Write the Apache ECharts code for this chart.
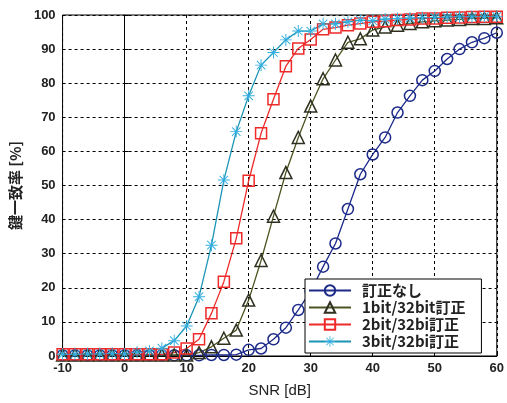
<!DOCTYPE html>
<html><head><meta charset="utf-8">
<script src="https://cdn.jsdelivr.net/npm/echarts@6/dist/echarts.min.js"></script>
<style>html,body{margin:0;padding:0;background:#fff}#c{width:507px;height:403px}</style>
</head><body><div id="c"></div>
<script>
const snr = [-10,-8,-6,-4,-2,0,2,4,6,8,10,12,14,16,18,20,22,24,26,28,30,32,34,36,38,40,42,44,46,48,50,52,54,56,58,60];
const noCorr = [0.2,0.2,0.2,0.2,0.2,0.2,0.2,0.2,0.2,0.2,0.2,0.2,0.3,0.3,0.4,1.8,2.2,4.9,8.3,13.5,19,26.2,33,43.1,53.3,59.1,64.1,71.4,76.3,80.9,83.6,87.1,90,92,93.2,94.8];
const corr1 = [0.3,0.3,0.3,0.3,0.3,0.3,0.3,0.3,0.3,0.3,0.3,1,2.7,5.2,7.6,16.4,28,41,53.8,64.1,73.3,81.3,86.8,92,93,95.6,96.5,97,97.5,98,98.3,98.5,98.7,99,99,99.2];
const corr2 = [0.5,0.5,0.5,0.5,0.5,0.5,0.5,0.5,0.5,1,2.2,4.9,12.5,21.8,34.5,51.4,65.3,75.3,85,90.2,92.8,95.8,96.3,97,97.5,98,98.2,98.5,98.7,99,99,99.2,99.3,99.4,99.5,99.5];
const corr3 = [0.5,0.5,0.6,0.6,0.7,0.6,1.1,1.5,2.3,4.5,8.8,17.4,32.5,51.6,65.8,76.3,85.3,89,92.7,95.3,95.3,97.4,97.4,98,98.5,98.3,98.8,99,99.1,99.2,99.3,99.4,99.5,99.5,99.6,99.6];
const names = ['訂正なし','1bit/32bit訂正','2bit/32bi訂正','3bit/32bi訂正'];

const star = 'path://M-0.8,-10L0.8,-10L0.8,10L-0.8,10Z M-10,-0.8L10,-0.8L10,0.8L-10,0.8Z M-7.6,-6.5L-6.5,-7.6L7.6,6.5L6.5,7.6Z M6.5,-7.6L7.6,-6.5L-6.5,7.6L-7.6,6.5Z';
function pairs(v){return snr.map((x,i)=>[x,v[i]]);}
function mk(name,data,col,sym,size,mcol,fill){
  return {name:name,type:'line',data:pairs(data),symbol:sym,symbolSize:size,showSymbol:true,
    lineStyle:{color:col,width:1.3},
    itemStyle:{color:fill?mcol:'rgba(255,255,255,0)',borderColor:mcol,borderWidth:fill?0:1.5},
    emphasis:{disabled:true},animation:false};
}
const chart = echarts.init(document.getElementById('c'),null,{renderer:'canvas'});
const FONT = '"Liberation Sans", Arial, "Noto Sans CJK JP", sans-serif';
chart.setOption({
  backgroundColor:'#fff',
  animation:false,
  grid:{left:62,right:8,top:15,bottom:47,show:true,borderColor:'#000',borderWidth:1},
  xAxis:{type:'value',min:-10,max:60,interval:10,
    name:'SNR [dB]',nameLocation:'middle',nameGap:27,
    nameTextStyle:{fontFamily:FONT,fontSize:15,color:'#222'},
    axisLine:{show:true,lineStyle:{color:'#000'}},axisTick:{show:true,inside:true,length:4,lineStyle:{color:'#000'}},
    axisLabel:{fontFamily:FONT,fontSize:13,fontWeight:'bold',color:'#222',margin:6},
    splitLine:{show:true,lineStyle:{color:'#000',type:[3,3],width:1}}},
  yAxis:{type:'value',min:0,max:100,interval:10,
    name:'鍵一致率 [%]',nameLocation:'middle',nameGap:30,nameRotate:90,
    nameTextStyle:{fontFamily:'"Noto Sans CJK JP", sans-serif',fontSize:15,fontWeight:'bold',color:'#222'},
    axisLine:{show:true,lineStyle:{color:'#000'}},axisTick:{show:true,inside:true,length:4,lineStyle:{color:'#000'}},
    axisLabel:{fontFamily:FONT,fontSize:13,fontWeight:'bold',color:'#222',margin:7},
    splitLine:{show:true,lineStyle:{color:'#000',type:[3,3],width:1}}},
  legend:{orient:'vertical',left:305,top:279,itemGap:2,itemWidth:42,itemHeight:13,
    backgroundColor:'#fff',borderColor:'#000',borderWidth:1,borderRadius:0,padding:[4,16,4,3],
    textStyle:{fontFamily:'"Noto Sans CJK JP", sans-serif',fontSize:15,fontWeight:'bold',color:'#222',padding:[0,0,0,6]},
    data:names},
  series:[
    mk(names[0],noCorr,'#1c2a8a','circle',11,'#1c2a8a',false),
    mk(names[1],corr1,'#4a5520','triangle',12,'#303020',false),
    mk(names[2],corr2,'#ee2a2a','rect',11,'#ee2a2a',false),
    mk(names[3],corr3,'#1a95b5',star,12,'#33aee0',true)
  ]
});
</script></body></html>
